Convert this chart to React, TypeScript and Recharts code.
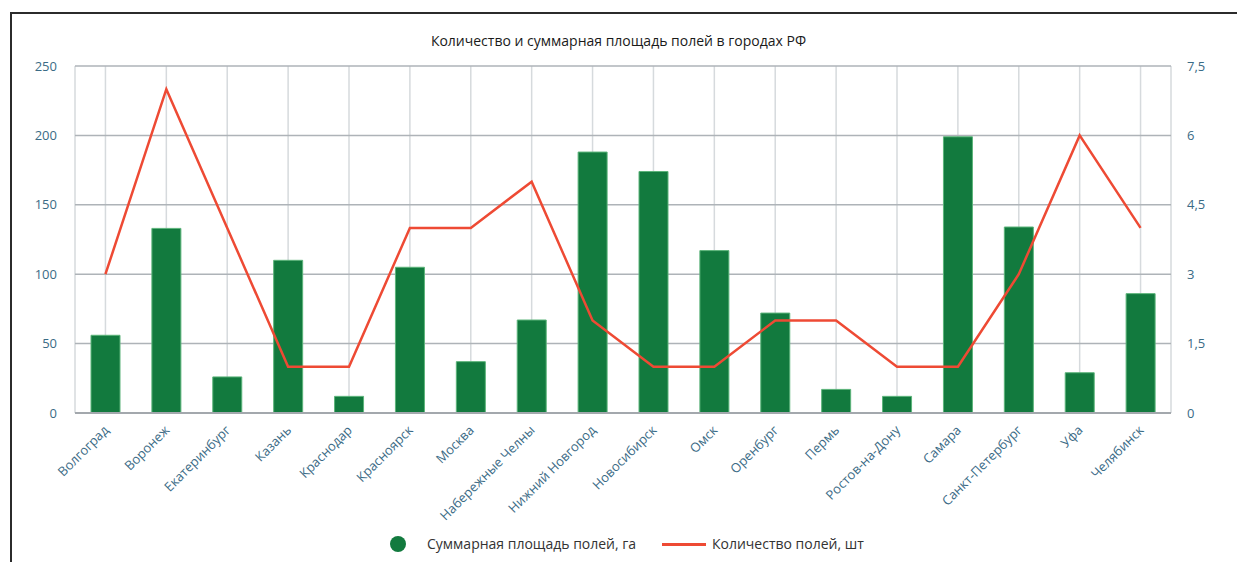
import React from "react";
import { ComposedChart, Bar, Line, XAxis, YAxis, CartesianGrid } from "recharts";

const cities = [
  "Волгоград", "Воронеж", "Екатеринбург", "Казань", "Краснодар", "Красноярск",
  "Москва", "Набережные Челны", "Нижний Новгород", "Новосибирск", "Омск", "Оренбург",
  "Пермь", "Ростов-на-Дону", "Самара", "Санкт-Петербург", "Уфа", "Челябинск",
];
const areaHa = [56, 133, 26, 110, 12, 105, 37, 67, 188, 174, 117, 72, 17, 12, 199, 134, 29, 86];
const fieldCount = [3, 7, 4, 1, 1, 4, 4, 5, 2, 1, 1, 2, 2, 1, 1, 3, 6, 4];
const leftTicks = [0, 50, 100, 150, 200, 250];
const rightTicks = [0, 1.5, 3, 4.5, 6, 7.5];

const title = "Количество и суммарная площадь полей в городах РФ";
const areaName = "Суммарная площадь полей, га";
const countName = "Количество полей, шт";

const data = cities.map((city, i) => ({ city, area: areaHa[i], count: fieldCount[i] }));

const FONT = "'Open Sans', 'Noto Sans', sans-serif";
const TICK_COLOR = "#3b6b86";
const GREEN = "#127a3e";
const RED = "#ee4a34";

function CityTick({ x, y, payload }: any) {
  return (
    <text
      x={x + 4}
      y={y + 10}
      textAnchor="end"
      fill={TICK_COLOR}
      fontSize={13}
      fontFamily={FONT}
      transform={`rotate(-45, ${x + 4}, ${y + 10})`}
    >
      {payload.value}
    </text>
  );
}

const fmt = (v: number) => String(v).replace(".", ",");

export default function App() {
  return (
    <div style={{ position: "absolute", left: 0, top: 0, width: 1237, height: 562, overflow: "hidden", background: "#fff" }}>
      <div
        style={{
          position: "absolute", left: 10, top: 12, width: 1300, height: 600,
          borderLeft: "2px solid #2b2b2b", borderTop: "2px solid #2b2b2b",
        }}
      />
      <div
        style={{
          position: "absolute", left: 0, top: 31, width: 1237, textAlign: "center",
          fontFamily: FONT, fontSize: 14, color: "#1a1a1a",
        }}
      >
        {title}
      </div>
      <div style={{ position: "absolute", left: 0, top: 0 }}>
        <ComposedChart width={1237} height={562} data={data} margin={{ top: 66, right: 16, left: 15, bottom: 20 }}>
          <CartesianGrid yAxisId="left" horizontal={false} vertical stroke="#d6dadd" strokeWidth={1.5} />
          <CartesianGrid yAxisId="left" vertical={false} horizontal stroke="#aeb3b8" strokeWidth={1.5} />
          <XAxis
            dataKey="city"
            interval={0}
            height={129}
            tick={<CityTick />}
            tickLine={false}
            axisLine={{ stroke: "#a3a8ad", strokeWidth: 2 }}
          />
          <YAxis
            yAxisId="left"
            width={60}
            domain={[0, 250]}
            ticks={leftTicks}
            axisLine={false}
            tickLine={false}
            tickSize={0}
            tickMargin={18}
            tick={{ fill: TICK_COLOR, fontSize: 13, fontFamily: FONT }}
          />
          <YAxis
            yAxisId="right"
            orientation="right"
            width={50}
            domain={[0, 7.5]}
            ticks={rightTicks}
            tickFormatter={fmt}
            axisLine={false}
            tickLine={false}
            tickSize={0}
            tickMargin={16}
            tick={{ fill: TICK_COLOR, fontSize: 13, fontFamily: FONT, textAnchor: "start" }}
          />
          <Bar yAxisId="left" dataKey="area" name={areaName} fill={GREEN} stroke="#5cb47a" strokeWidth={1} barSize={29} isAnimationActive={false} />
          <Line
            yAxisId="right"
            type="linear"
            dataKey="count"
            name={countName}
            stroke={RED}
            strokeWidth={2.5}
            dot={false}
            activeDot={false}
            isAnimationActive={false}
          />
        </ComposedChart>
      </div>
      <div
        style={{
          position: "absolute", left: 0, top: 534, width: 1237, height: 20,
          fontFamily: FONT, fontSize: 14, color: "#333",
        }}
      >
        <span style={{ position: "absolute", left: 390, top: 2, width: 16, height: 16, borderRadius: 8, background: GREEN }} />
        <span style={{ position: "absolute", left: 427, top: 0 }}>{areaName}</span>
        <span style={{ position: "absolute", left: 662, top: 9, width: 44, height: 3, background: RED }} />
        <span style={{ position: "absolute", left: 712, top: 0 }}>{countName}</span>
      </div>
    </div>
  );
}
